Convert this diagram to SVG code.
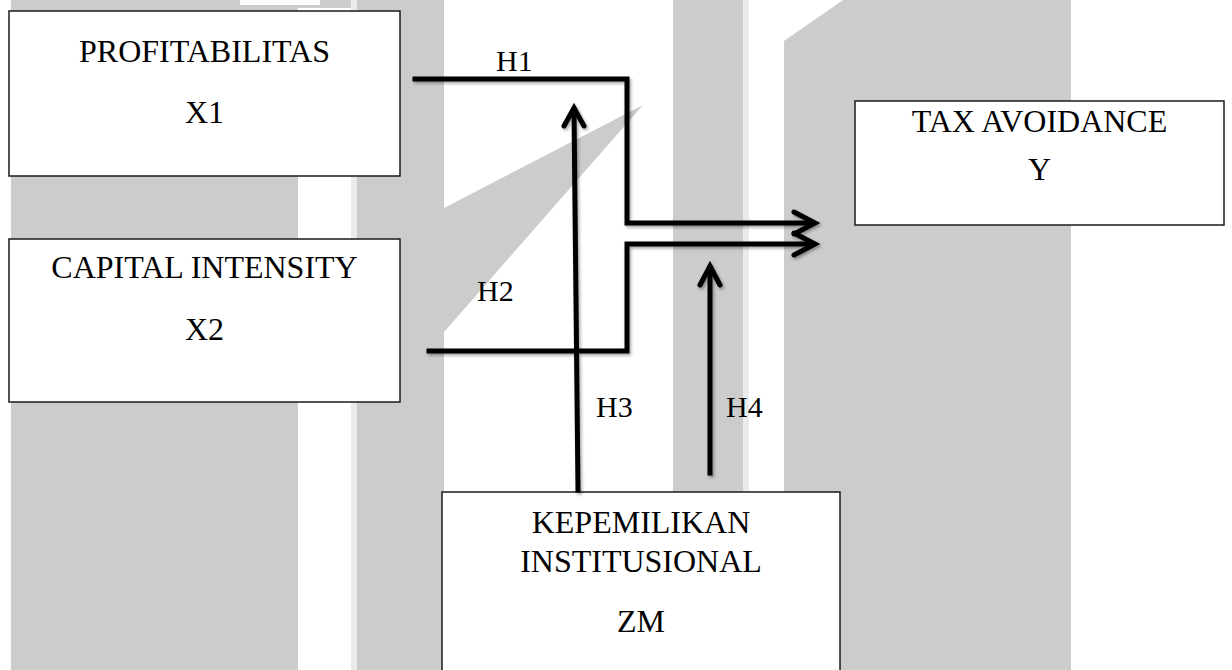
<svg xmlns="http://www.w3.org/2000/svg" width="1232" height="670" viewBox="0 0 1232 670">
  <style>
    .bg { fill: #cccccc; }
    .bgl { fill: #ebebeb; }
    .box { fill: #ffffff; stroke: #1a1a1a; stroke-width: 1.5; }
    .t { font-family: "Liberation Serif", "Times New Roman", serif; font-size: 32px; fill: #000; text-anchor: middle; }
    .lab { font-family: "Liberation Serif", "Times New Roman", serif; font-size: 30px; fill: #000; }
    .ln { fill: none; stroke: #000; stroke-width: 5; stroke-linecap: square; stroke-linejoin: miter; }
    .ah { fill: none; stroke: #000; stroke-width: 5; stroke-linecap: round; stroke-linejoin: miter; }
  </style>
  <defs>
    <filter id="sh" x="-10%" y="-10%" width="130%" height="130%">
      <feDropShadow dx="1.5" dy="2" stdDeviation="1.5" flood-color="#000" flood-opacity="0.35"/>
    </filter>
  </defs>
  <rect x="0" y="0" width="1232" height="670" fill="#ffffff"/>
  <g id="background">
    <rect class="bg" x="11" y="0" width="287" height="670"/>
    <rect class="bgl" x="351" y="0" width="6" height="670"/>
    <rect class="bg" x="357" y="0" width="87" height="670"/>
    <rect class="bg" x="298" y="0" width="53" height="8"/>
    <rect fill="#ffffff" x="240" y="0" width="80" height="5"/>
    <polygon class="bg" points="444,208 643,105 444,332"/>
    <rect class="bg" x="673" y="0" width="70" height="670"/>
    <rect class="bgl" x="743" y="0" width="6" height="670"/>
    <polygon class="bg" points="784,41 843,0 1071,0 1071,670 784,670"/>
  </g>
  <g id="node-x1">
    <rect class="box" x="9" y="11" width="391" height="165"/>
    <text class="t" x="204.5" y="62">PROFITABILITAS</text>
    <text class="t" x="204.5" y="123">X1</text>
  </g>
  <g id="node-x2">
    <rect class="box" x="9" y="239" width="391" height="163"/>
    <text class="t" x="204.5" y="278">CAPITAL INTENSITY</text>
    <text class="t" x="204.5" y="340">X2</text>
  </g>
  <g id="node-y">
    <rect class="box" x="855" y="101" width="369" height="124"/>
    <text class="t" x="1039.5" y="132">TAX AVOIDANCE</text>
    <text class="t" x="1039.5" y="180">Y</text>
  </g>
  <g id="node-zm">
    <rect class="box" x="442" y="492" width="398" height="190"/>
    <text class="t" x="641" y="533">KEPEMILIKAN</text>
    <text class="t" x="641" y="572">INSTITUSIONAL</text>
    <text class="t" x="641" y="632">ZM</text>
  </g>
  <g id="connectors" filter="url(#sh)">
    <polyline class="ln" points="415,79 627,79 627,223 812,223"/>
    <polyline class="ah" points="794,212 815,223 794,234"/>
    <polyline class="ln" points="429,351 627,351 627,244 812,244"/>
    <polyline class="ah" points="794,233 815,244 794,255"/>
    <line class="ln" x1="578" y1="490" x2="574" y2="110"/>
    <polyline class="ah" points="564,126 574,108 584,126"/>
    <line class="ln" x1="710" y1="473" x2="710" y2="268"/>
    <polyline class="ah" points="700,285 710,266 720,285"/>
  </g>
  <g id="labels">
    <text class="lab" x="496" y="71">H1</text>
    <text class="lab" x="477" y="301">H2</text>
    <text class="lab" x="596" y="417">H3</text>
    <text class="lab" x="726" y="417">H4</text>
  </g>
</svg>
